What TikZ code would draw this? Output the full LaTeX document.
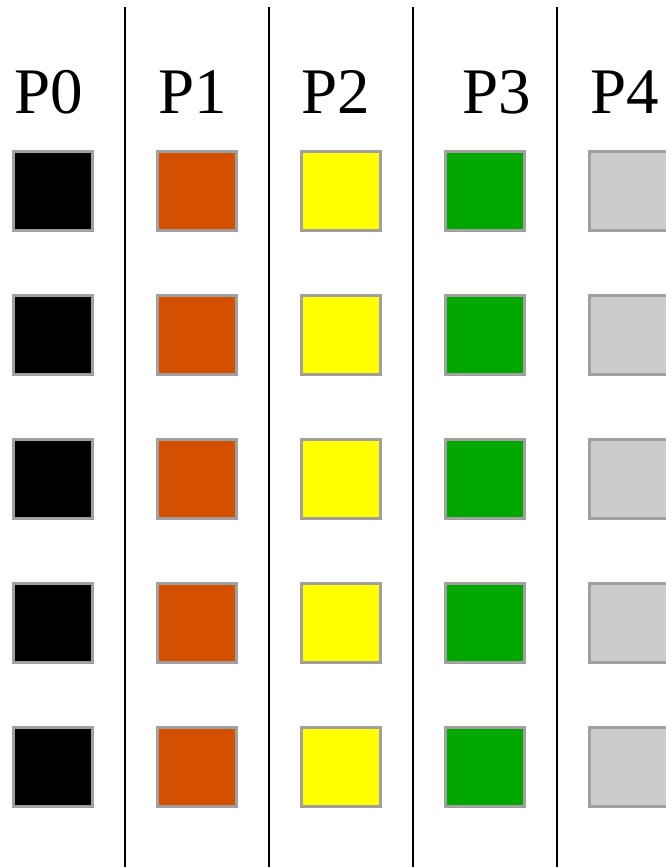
\documentclass[tikz,border=0pt]{standalone}
\usepackage{fontspec}
\setmainfont{Liberation Serif}
\definecolor{borderg}{HTML}{A0A0A0}
\definecolor{porange}{HTML}{D45000}
\definecolor{pyellow}{HTML}{FFFF00}
\definecolor{pgreen}{HTML}{00A800}
\definecolor{pgray}{HTML}{CCCCCC}
\begin{document}
\begin{tikzpicture}[x=1pt,y=-1pt,
  sq/.style={draw=borderg,line width=3pt,minimum size=79pt,inner sep=0pt,outer sep=0pt},
  sep/.style={line width=2pt,black},
  lbl/.style={anchor=base west,inner sep=0pt,font=\fontsize{65}{65}\selectfont}]
\useasboundingbox (0,0) rectangle (665,867);
\fill[white] (0,0) rectangle (665,867);
% separators
\foreach \i/\x in {1/125,2/269,3/413,4/557}{
  \coordinate (t\i) at (\x,7);
  \coordinate (b\i) at (\x,867);
  \draw[sep] (t\i) -- (b\i);
}
% labels
\node[lbl] (L0) at (14,113) {P0};
\node[lbl] (L1) at (158,113) {P1};
\node[lbl] (L2) at (301,113) {P2};
\node[lbl] (L3) at (462,113) {P3};
\node[lbl] (L4) at (590,113) {P4};
% squares
\foreach \c/\col in {0/black,1/porange,2/pyellow,3/pgreen,4/pgray}{
  \foreach \r in {0,...,4}{
    \node[sq,fill=\col] (s\c\r) at ({53+144*\c},{191+144*\r}) {};
  }
}
\end{tikzpicture}
\end{document}
